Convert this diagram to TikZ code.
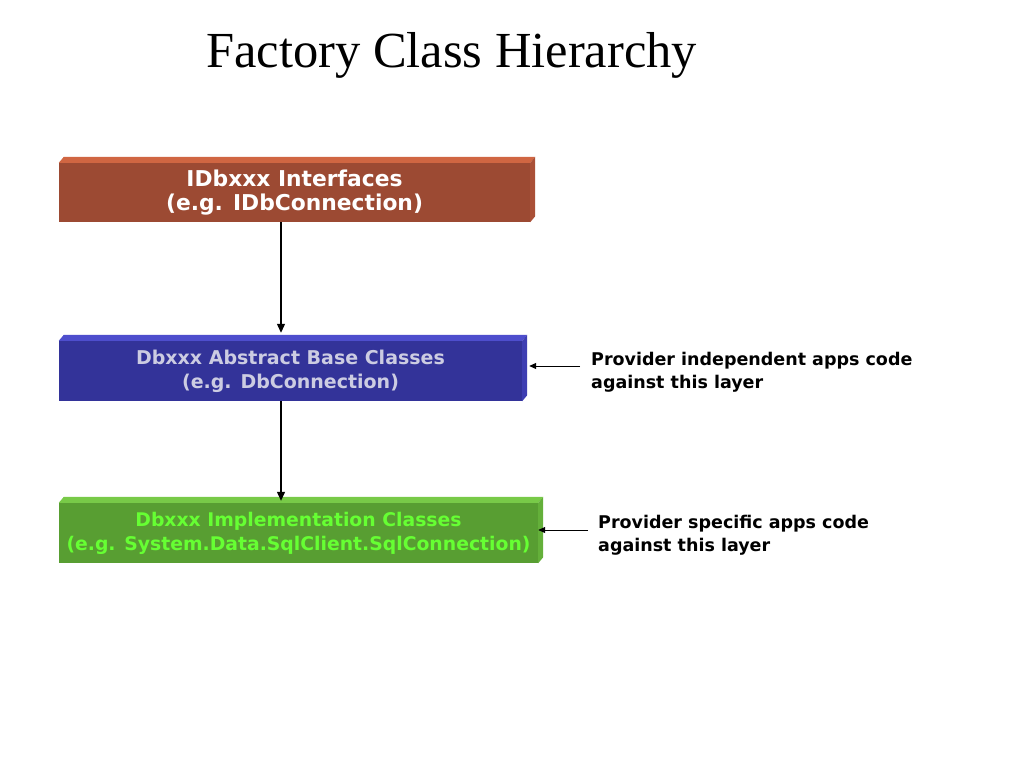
\documentclass[tikz,border=0pt]{standalone}
\usepackage{fontspec}
\setmainfont{Liberation Serif}
\setsansfont{DejaVu Sans}
\usetikzlibrary{arrows.meta}

\definecolor{ifacefront}{RGB}{156,74,51}
\definecolor{ifacetop}{RGB}{208,102,66}
\definecolor{ifaceside}{RGB}{170,80,55}
\definecolor{basefront}{RGB}{51,51,153}
\definecolor{basetop}{RGB}{78,78,205}
\definecolor{baseside}{RGB}{62,62,178}
\definecolor{basetext}{RGB}{204,204,226}
\definecolor{implfront}{RGB}{88,158,50}
\definecolor{impltop}{RGB}{120,202,72}
\definecolor{implside}{RGB}{100,176,58}
\definecolor{impltext}{RGB}{102,255,51}

\begin{document}
\begin{tikzpicture}[
  x=1pt,
  y=-1pt,
  layer/.style={inner sep=0pt, align=center, font=\sffamily\bfseries\fontsize{#1}{24}\selectfont},
  note/.style={inner sep=0pt, align=left, anchor=west, font=\sffamily\bfseries\fontsize{17.5}{23}\selectfont},
  link/.style={draw=black, line width=1.2pt, -{Triangle[length=9pt,width=8pt]}},
  pointer/.style={draw=black, line width=1pt, -{Triangle[length=7pt,width=6pt]}}
]
  \useasboundingbox[fill=white] (0,0) rectangle (1024,768);

  \node[anchor=base west, inner sep=0pt, font=\fontsize{50.5}{60}\selectfont] (title) at (206,67) {Factory Class Hierarchy};

  \node[layer=21.8, fill=ifacefront, text=white, minimum width=471pt, minimum height=59pt] (iface) at (294.5,192.5) {IDbxxx Interfaces\\(e.g. IDbConnection)};
  \node[layer=19, fill=basefront, text=basetext, minimum width=463pt, minimum height=60pt] (absbase) at (290.5,371) {Dbxxx Abstract Base Classes\\(e.g. DbConnection)};
  \node[layer=18.8, fill=implfront, text=impltext, minimum width=479pt, minimum height=60pt] (impl) at (298.5,533) {Dbxxx Implementation Classes\\(e.g. System.Data.SqlClient.SqlConnection)};

  % top and right faces of each slab
  \foreach \n/\t/\s in {iface/ifacetop/ifaceside, absbase/basetop/baseside, impl/impltop/implside} {
    \fill[\t] (\n.north west) -- ++(5,-6) -- ([shift={(5,-6)}]\n.north east) -- (\n.north east) -- cycle;
    \fill[\s] (\n.north east) -- ++(5,-6) -- ([shift={(5,-6)}]\n.south east) -- (\n.south east) -- cycle;
  }

  \coordinate (stemA) at ([xshift=-13.5pt]iface.south);
  \draw[link, shorten >=8pt] (stemA) -- (stemA |- absbase.north);
  \coordinate (stemB) at ([xshift=-9.5pt]absbase.south);
  \draw[link, shorten >=2pt] (stemB) -- (stemB |- impl.north);

  \node[note] (indep) at (591,372) {Provider independent apps code\\against this layer};
  \node[note] (spec) at (598,535) {Provider specific apps code\\against this layer};

  \coordinate (tapA) at ([yshift=6pt]indep.west);
  \draw[pointer, shorten <=11pt, shorten >=7pt] (tapA) -- (tapA -| absbase.east);
  \coordinate (tapB) at ([yshift=5pt]spec.west);
  \draw[pointer, shorten <=10pt] (tapB) -- (tapB -| impl.east);
\end{tikzpicture}
\end{document}
